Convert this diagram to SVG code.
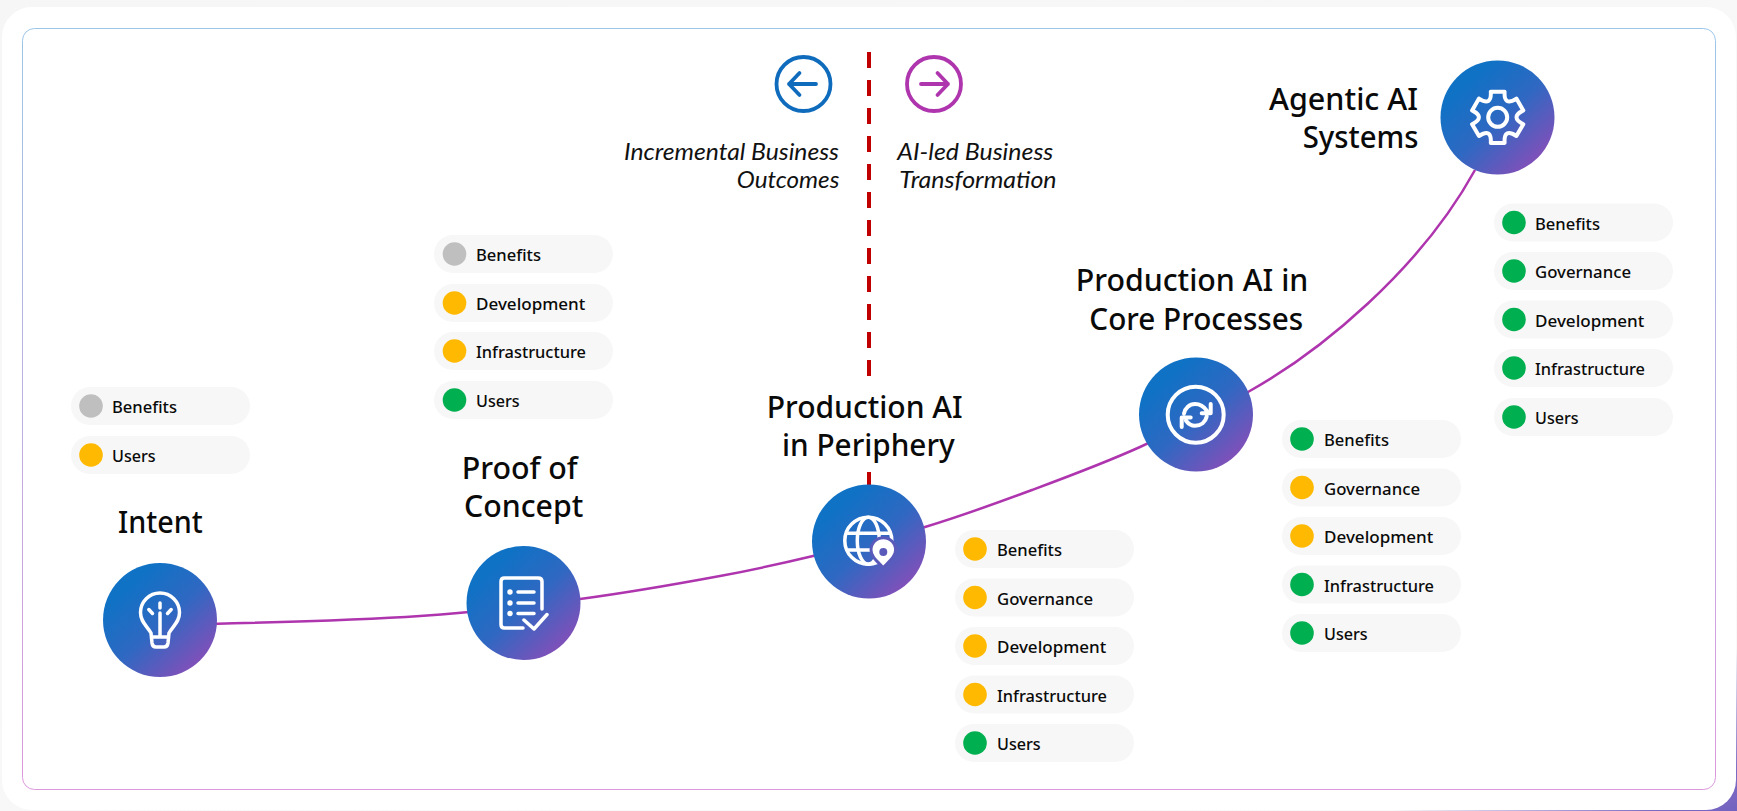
<svg xmlns="http://www.w3.org/2000/svg" width="1737" height="811" viewBox="0 0 1737 811">
<style>
text{font-family:"Noto Sans","Open Sans","Liberation Sans",sans-serif;fill:#0a0a0a}
.t{font-size:31px;font-weight:500}
.l{font-size:17px;font-weight:500}
.i{font-family:Lato,"Noto Sans",sans-serif;font-size:23px;font-style:italic;font-weight:400;fill:#111}
.p{fill:#f7f7f7}
.ic{fill:none;stroke:#fff;stroke-width:3.500;stroke-linecap:round;stroke-linejoin:round}
.b{stroke-width:4}
.g{fill:#bfbfbf}.y{fill:#ffb900}.v{fill:#00b050}
.c{fill:url(#cg)}
.d{stroke:#c00000;stroke-width:4;stroke-dasharray:16 12}
</style>
<defs>
<linearGradient id="cg" x1=".22" y1=".2" x2=".88" y2=".92"><stop offset="0" stop-color="#0f72c5"/><stop offset=".45" stop-color="#2f68c2"/><stop offset="1" stop-color="#8a4db8"/></linearGradient>
<linearGradient id="fr" x1="0" y1="0" x2="0" y2="1"><stop offset="0" stop-color="#9cc6e8"/><stop offset="1" stop-color="#dc98dc"/></linearGradient>
<linearGradient id="bg" x1="0" y1="0" x2="1" y2="1"><stop offset="0" stop-color="#f6f6f6"/><stop offset=".9" stop-color="#f9f9f9"/><stop offset=".975" stop-color="#7d6cc4"/><stop offset="1" stop-color="#7462c0"/></linearGradient>
</defs>
<rect width="1737" height="811" fill="url(#bg)"/>
<rect x="2" y="7" width="1734" height="803" rx="30" fill="#fff"/>
<rect x="22.500" y="28.500" width="1693" height="761" rx="12" fill="#fff" stroke="url(#fr)" stroke-width="1"/>
<g id="connectors">
<path d="M210,624 C251,623 359.500,620.200 420,616 C480.500,611.800 530,605.700 580,599 C630,592.300 681.200,583.200 720,576 C758.800,568.800 778.800,564.200 813,556 C847.200,547.800 888.500,538 925,527 C961.500,516 996.200,503.300 1032,490 C1067.800,476.700 1104,463.300 1140,447 C1176,430.700 1218.700,409 1248,392 C1320,352 1420,270 1475,170" fill="none" stroke="#ae35ae" stroke-width="2.500"/>
<line class="d" x1="869" y1="52" x2="869" y2="376"/>
<line class="d" x1="869" y1="472" x2="869" y2="490" style="stroke-dasharray:none"/>
</g>
<g id="arrow-left">
<circle cx="803.500" cy="84" r="27" fill="none" stroke="#0f6cbd" stroke-width="3.800"/>
<path d="M789,84 H816 M799.500,73 L789,84 L799.500,95" fill="none" stroke="#0f6cbd" stroke-width="3.800" stroke-linecap="round" stroke-linejoin="round"/>
<text class="i" x="624" y="160" textLength="215" lengthAdjust="spacingAndGlyphs">Incremental Business</text>
<text class="i" x="736.700" y="188" textLength="102.700" lengthAdjust="spacingAndGlyphs">Outcomes</text>
</g>
<g id="arrow-right">
<circle cx="934" cy="84" r="27" fill="none" stroke="#ae35ae" stroke-width="3.800"/>
<path d="M921,84 H948 M937.500,73 L948,84 L937.500,95" fill="none" stroke="#ae35ae" stroke-width="3.800" stroke-linecap="round" stroke-linejoin="round"/>
<text class="i" x="897.300" y="160" textLength="156" lengthAdjust="spacingAndGlyphs">AI-led Business</text>
<text class="i" x="899.300" y="188" textLength="157.300" lengthAdjust="spacingAndGlyphs">Transformation</text>
</g>
<g id="intent">
<circle class="c" cx="160" cy="620" r="57"/>
<path class="ic" d="M151,633 C147,626 140.500,622 140.500,612.500 A19.500,19.500 0 0 1 179.500,612.500 C179.500,622 173,626 169,633 L168,643 Q167.500,647 164,647 H156 Q152.500,647 152,643 Z M152,637 H168 M160,637 V613 M160,603 V608 M148.800,609.500 L152.500,613.500 M171.200,609.500 L167.500,613.500"/>
<text class="t" x="118" y="533" textLength="84.700" lengthAdjust="spacingAndGlyphs">Intent</text>
<rect class="p" x="71" y="387" width="179" height="38" rx="19"/><circle class="g" cx="91" cy="406" r="11.800"/><text class="l" x="112" y="413" textLength="65" lengthAdjust="spacingAndGlyphs">Benefits</text>
<rect class="p" x="71" y="436" width="179" height="38" rx="19"/><circle class="y" cx="91" cy="455" r="11.800"/><text class="l" x="112" y="462" textLength="43.700" lengthAdjust="spacingAndGlyphs">Users</text>
</g>
<g id="proof-of-concept">
<circle class="c" cx="523.500" cy="603" r="57"/>
<path class="ic" d="M542,609 V581.500 Q542,578 538,578 H504.500 Q501,578 501,581.500 V624.500 Q501,628 504.500,628 H523 M518,592 H534 M518,603 H534 M518,613.500 H534 M524,620 L534,629 L547,614.500"/>
<circle cx="510" cy="592" r="2.700" fill="#fff"/><circle cx="510" cy="603" r="2.700" fill="#fff"/><circle cx="510" cy="613.500" r="2.700" fill="#fff"/>
<text class="t" x="461.700" y="479" textLength="116" lengthAdjust="spacingAndGlyphs">Proof of</text>
<text class="t" x="464" y="517" textLength="119.300" lengthAdjust="spacingAndGlyphs">Concept</text>
<rect class="p" x="434" y="235" width="179" height="38" rx="19"/><circle class="g" cx="454.500" cy="254" r="11.800"/><text class="l" x="476" y="261" textLength="65" lengthAdjust="spacingAndGlyphs">Benefits</text>
<rect class="p" x="434" y="284" width="179" height="38" rx="19"/><circle class="y" cx="454.500" cy="303" r="11.800"/><text class="l" x="476" y="310" textLength="109.300" lengthAdjust="spacingAndGlyphs">Development</text>
<rect class="p" x="434" y="332" width="179" height="38" rx="19"/><circle class="y" cx="454.500" cy="351" r="11.800"/><text class="l" x="476" y="358" textLength="110" lengthAdjust="spacingAndGlyphs">Infrastructure</text>
<rect class="p" x="434" y="381" width="179" height="38" rx="19"/><circle class="v" cx="454.500" cy="400" r="11.800"/><text class="l" x="476" y="407" textLength="43.700" lengthAdjust="spacingAndGlyphs">Users</text>
</g>
<g id="production-periphery">
<circle class="c" cx="869" cy="541.500" r="57"/>
<g class="ic"><circle cx="868.300" cy="540.700" r="23.500"/><ellipse cx="868.300" cy="540.700" rx="11" ry="23.500"/><path d="M847,533.300 H890 M847,550 H880"/></g>
<path d="M883.300,567.500 C877,561 871,556.500 871,550 A12.300,12.300 0 0 1 895.600,550 C895.600,556.500 889.500,561 883.300,567.500 Z" fill="#fff" stroke="#5a5abb" stroke-width="3"/>
<circle cx="883.300" cy="552" r="4" fill="#5a5abb"/>
<text class="t" x="766.700" y="418" textLength="196" lengthAdjust="spacingAndGlyphs">Production AI</text>
<text class="t" x="782" y="456" textLength="172.700" lengthAdjust="spacingAndGlyphs">in Periphery</text>
<rect class="p" x="955" y="530" width="179" height="38" rx="19"/><circle class="y" cx="975" cy="549" r="11.800"/><text class="l" x="997" y="556" textLength="65" lengthAdjust="spacingAndGlyphs">Benefits</text>
<rect class="p" x="955" y="578.500" width="179" height="38" rx="19"/><circle class="y" cx="975" cy="597.500" r="11.800"/><text class="l" x="997" y="604.500" textLength="96" lengthAdjust="spacingAndGlyphs">Governance</text>
<rect class="p" x="955" y="627" width="179" height="38" rx="19"/><circle class="y" cx="975" cy="646" r="11.800"/><text class="l" x="997" y="653" textLength="109.300" lengthAdjust="spacingAndGlyphs">Development</text>
<rect class="p" x="955" y="675.500" width="179" height="38" rx="19"/><circle class="y" cx="975" cy="694.500" r="11.800"/><text class="l" x="997" y="701.500" textLength="110" lengthAdjust="spacingAndGlyphs">Infrastructure</text>
<rect class="p" x="955" y="724" width="179" height="38" rx="19"/><circle class="v" cx="975" cy="743" r="11.800"/><text class="l" x="997" y="750" textLength="43.700" lengthAdjust="spacingAndGlyphs">Users</text>
</g>
<g id="production-core">
<circle class="c" cx="1196" cy="414.500" r="57"/>
<circle class="ic b" cx="1195.700" cy="414.700" r="28"/>
<path class="ic b" d="M1184,413.500 C1185,408 1189.500,404 1195,404 C1200,404 1204,406.500 1206.700,410.700 M1210.700,404 V413.300 H1201.700 M1206.700,416.500 C1205.500,422 1201,425.700 1195,425.700 C1191.500,425.700 1188.500,424 1186,420.700 M1181.700,427 V417.500 H1190.700"/>
<text class="t" x="1075.700" y="291" textLength="232.700" lengthAdjust="spacingAndGlyphs">Production AI in</text>
<text class="t" x="1089.300" y="330" textLength="214" lengthAdjust="spacingAndGlyphs">Core Processes</text>
<rect class="p" x="1282" y="420" width="179" height="38" rx="19"/><circle class="v" cx="1302" cy="439" r="11.800"/><text class="l" x="1324" y="446" textLength="65" lengthAdjust="spacingAndGlyphs">Benefits</text>
<rect class="p" x="1282" y="468.500" width="179" height="38" rx="19"/><circle class="y" cx="1302" cy="487.500" r="11.800"/><text class="l" x="1324" y="494.500" textLength="96" lengthAdjust="spacingAndGlyphs">Governance</text>
<rect class="p" x="1282" y="517" width="179" height="38" rx="19"/><circle class="y" cx="1302" cy="536" r="11.800"/><text class="l" x="1324" y="543" textLength="109.300" lengthAdjust="spacingAndGlyphs">Development</text>
<rect class="p" x="1282" y="565.500" width="179" height="38" rx="19"/><circle class="v" cx="1302" cy="584.500" r="11.800"/><text class="l" x="1324" y="591.500" textLength="110" lengthAdjust="spacingAndGlyphs">Infrastructure</text>
<rect class="p" x="1282" y="614" width="179" height="38" rx="19"/><circle class="v" cx="1302" cy="633" r="11.800"/><text class="l" x="1324" y="640" textLength="43.700" lengthAdjust="spacingAndGlyphs">Users</text>
</g>
<g id="agentic">
<circle class="c" cx="1497.500" cy="117.500" r="57"/>
<g transform="translate(1497.700 117.300)"><path class="ic b" d="M-6.900,-25.600 L6.900,-25.600 Q6,-10.400 18.700,-18.700 L25.600,-6.900 Q12,0 25.600,6.900 L18.700,18.700 Q6,10.400 6.900,25.600 L-6.900,25.600 Q-6,10.400 -18.700,18.700 L-25.600,6.900 Q-12,0 -25.600,-6.900 L-18.700,-18.700 Q-6,-10.400 -6.900,-25.600Z"/><circle class="ic b" r="9.500"/></g>
<text class="t" x="1269" y="109.500" textLength="149" lengthAdjust="spacingAndGlyphs">Agentic AI</text>
<text class="t" x="1302.700" y="147.500" textLength="115.700" lengthAdjust="spacingAndGlyphs">Systems</text>
<rect class="p" x="1494" y="203.500" width="179" height="38" rx="19"/><circle class="v" cx="1514" cy="222.500" r="11.800"/><text class="l" x="1535" y="229.500" textLength="65" lengthAdjust="spacingAndGlyphs">Benefits</text>
<rect class="p" x="1494" y="252" width="179" height="38" rx="19"/><circle class="v" cx="1514" cy="271" r="11.800"/><text class="l" x="1535" y="278" textLength="96" lengthAdjust="spacingAndGlyphs">Governance</text>
<rect class="p" x="1494" y="300.500" width="179" height="38" rx="19"/><circle class="v" cx="1514" cy="319.500" r="11.800"/><text class="l" x="1535" y="326.500" textLength="109.300" lengthAdjust="spacingAndGlyphs">Development</text>
<rect class="p" x="1494" y="349" width="179" height="38" rx="19"/><circle class="v" cx="1514" cy="368" r="11.800"/><text class="l" x="1535" y="375" textLength="110" lengthAdjust="spacingAndGlyphs">Infrastructure</text>
<rect class="p" x="1494" y="398" width="179" height="38" rx="19"/><circle class="v" cx="1514" cy="417" r="11.800"/><text class="l" x="1535" y="424" textLength="43.700" lengthAdjust="spacingAndGlyphs">Users</text>
</g>
</svg>
